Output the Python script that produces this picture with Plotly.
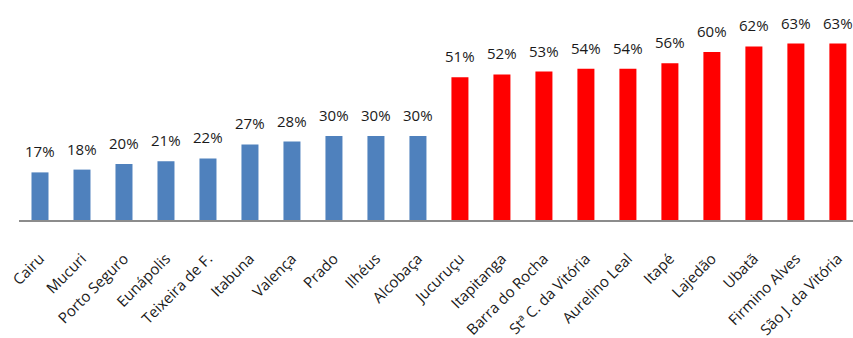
import plotly.graph_objects as go

# Municipalities, ordered by share
municipios = [
    "Cairu", "Mucuri", "Porto Seguro", "Eunápolis", "Teixeira de F.",
    "Itabuna", "Valença", "Prado", "Ilhéus", "Alcobaça",
    "Jucuruçu", "Itapitanga", "Barra do Rocha", "Stª C. da Vitória", "Aurelino Leal",
    "Itapé", "Lajedão", "Ubatã", "Firmino Alves", "São J. da Vitória",
]
percentuais = [17, 18, 20, 21, 22, 27, 28, 30, 30, 30,
               51, 52, 53, 54, 54, 56, 60, 62, 63, 63]

AZUL = "#4F81BD"
VERMELHO = "#FF0000"
cores = [AZUL if v < 50 else VERMELHO for v in percentuais]

FONTE = "Open Sans"
TEXTO = "#1a1a1a"

fig = go.Figure(
    go.Bar(
        x=municipios,
        y=percentuais,
        marker=dict(color=cores, line=dict(width=0)),
        width=0.405,
        hoverinfo="skip",
    )
)

# value labels above each bar
for nome, v in zip(municipios, percentuais):
    fig.add_annotation(
        x=nome, y=v, text=f"{v}%", showarrow=False,
        yanchor="middle", yshift=21,
        font=dict(family=FONTE, size=15, color=TEXTO),
    )

fig.update_layout(
    width=853, height=338,
    margin=dict(l=19, r=0, t=10, b=118),
    paper_bgcolor="white", plot_bgcolor="white",
    showlegend=False,
    bargap=0.6,
)
fig.update_xaxes(
    type="category",
    range=[-0.5, 19.36],
    showline=True, linecolor="#8c8c8c", linewidth=2,
    showgrid=False, ticks="",
    tickangle=-45,
    ticklabelstandoff=22,
    tickfont=dict(family=FONTE, size=15, color=TEXTO),
)
fig.update_yaxes(
    range=[0, 75],
    visible=False, showgrid=False, zeroline=False,
)

fig.write_html("out.html")
